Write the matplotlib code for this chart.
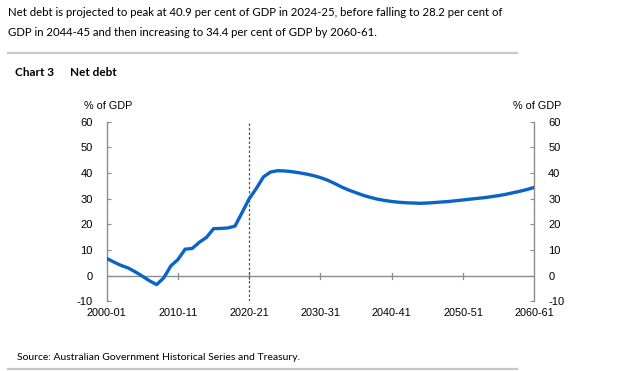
import numpy as np
import matplotlib
matplotlib.use("Agg")
import matplotlib.pyplot as plt

# ---- data (net debt, % of GDP, annual 2000-01 .. 2060-61) ----
start_years = list(range(2000, 2061))
net_debt = [6.7, 5.3, 4.0, 3.0, 1.5, -0.2, -2.0, -3.5, -0.9, 3.8,
            6.3, 10.3, 10.6, 13.0, 14.9, 18.3, 18.4, 18.6, 19.3, 24.6,
            30.0, 34.0, 38.5, 40.4, 40.9, 40.8, 40.5, 40.1, 39.6, 39.0,
            38.2, 37.2, 35.9, 34.5, 33.3, 32.3, 31.3, 30.5, 29.8, 29.3,
            28.9, 28.6, 28.4, 28.3, 28.2, 28.3, 28.5, 28.7, 28.9, 29.2,
            29.5, 29.8, 30.1, 30.4, 30.8, 31.2, 31.7, 32.3, 32.9, 33.6,
            34.4]
tick_years = [2000, 2010, 2020, 2030, 2040, 2050, 2060]
tick_labels = [f"{y}-{(y + 1) % 100:02d}" for y in tick_years]
y_ticks = [-10, 0, 10, 20, 30, 40, 50, 60]
projection_start = 2020

intro = ("Net debt is projected to peak at 40.9 per cent of GDP in 2024-25, before falling to 28.2 per cent of\n"
         "GDP in 2044-45 and then increasing to 34.4 per cent of GDP by 2060-61.")

# ---- style ----
W, H = 619, 371
grey = "#8c8c8c"
blue = "#0a64c8"
axfont = ["Liberation Sans", "DejaVu Sans"]
docfont = ["Lato", "DejaVu Sans"]

fig = plt.figure(figsize=(W / 100, H / 100), dpi=100)
fig.patch.set_facecolor("white")

# axes box in pixel coords
left, right, top, bottom = 106.7, 534.3, 121.7, 301.3
ax = fig.add_axes([left / W, 1 - bottom / H, (right - left) / W, (bottom - top) / H])

ax.plot(start_years, net_debt, color=blue, lw=2.4, solid_capstyle="round", zorder=3)
ax.axhline(0, color=grey, lw=1.0, zorder=1)
ax.axvline(projection_start, color="#555555", lw=0.9, ls=(0, (2, 1.6)), zorder=2)

ax.set_xlim(2000, 2060)
ax.set_ylim(-10, 60)
ax.set_yticks(y_ticks)
ax.set_yticklabels([str(v) for v in y_ticks], fontfamily=axfont, fontsize=8)
ax.tick_params(axis="y", direction="in", length=3, color=grey, pad=10,
               left=True, right=True, labelleft=True, labelright=True)

# x ticks sit on the zero line, labels below the axes
ax.set_xticks([])
for yr, lab in zip(tick_years, tick_labels):
    if yr not in (2000, 2060):
        ax.plot([yr, yr], [-1.2, 1.2], color=grey, lw=0.9, zorder=1)
    ax.text(yr, -14.4, lab, ha="center", va="center", fontsize=7.8, family=axfont)

for s in ("top", "bottom"):
    ax.spines[s].set_visible(False)
for s in ("left", "right"):
    ax.spines[s].set_color(grey)
    ax.spines[s].set_linewidth(1.0)

# axis unit labels
fig.text(84 / W, 1 - 106 / H, "% of GDP", fontsize=7.8, family=axfont, ha="left", va="center")
fig.text(561 / W, 1 - 106 / H, "% of GDP", fontsize=7.8, family=axfont, ha="right", va="center")

# document text around the chart
fig.text(8 / W, 1 - 7 / H, intro, fontsize=8.2, family=docfont, ha="left", va="top", linespacing=1.95)
fig.add_artist(plt.Line2D([8 / W, 517 / W], [1 - 53 / H] * 2, color="#c8c8c8", lw=1.6))
fig.text(15 / W, 1 - 73 / H, "Chart 3", fontsize=8.5, family=docfont, weight="bold", ha="left", va="center")
fig.text(70 / W, 1 - 73 / H, "Net debt", fontsize=8.5, family=docfont, weight="bold", ha="left", va="center")
fig.text(17 / W, 1 - 357 / H, "Source: Australian Government Historical Series and Treasury.",
         fontsize=7.5, family=docfont, ha="left", va="center")
fig.add_artist(plt.Line2D([8 / W, 517 / W], [1 - 368.5 / H] * 2, color="#c8c8c8", lw=1.6))

fig.savefig("out.png", dpi=100, facecolor="white")
